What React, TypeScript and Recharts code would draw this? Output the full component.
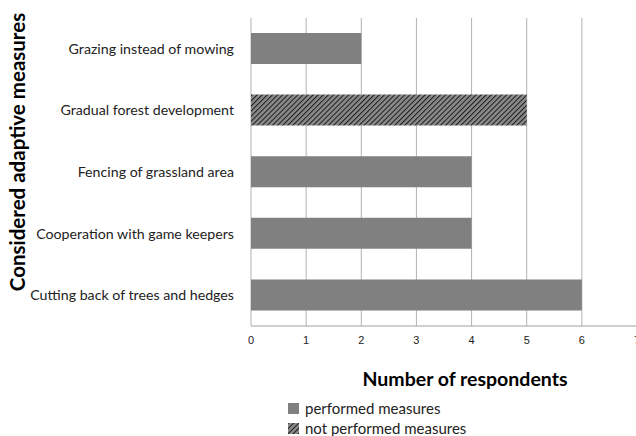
import React from "react";
import { BarChart, Bar, XAxis, YAxis, CartesianGrid } from "recharts";

const categories = [
  "Grazing instead of mowing",
  "Gradual forest development",
  "Fencing of grassland area",
  "Cooperation with game keepers",
  "Cutting back of trees and hedges",
];
const performed = [2, 0, 4, 4, 6];
const notPerformed = [0, 5, 0, 0, 0];
const xTicks = [0, 1, 2, 3, 4, 5, 6, 7];
const legendLabels = ["performed measures", "not performed measures"];

const data = categories.map((c, i) => ({
  name: c,
  performed: performed[i],
  notPerformed: notPerformed[i],
}));

const FONT = "Lato, 'Open Sans', sans-serif";

export default function App() {
  return (
    <div style={{ position: "relative", width: 636, height: 436, overflow: "hidden", background: "#fff" }}>
      <style>{"html,body{margin:0;padding:0;overflow:hidden}"}</style>
      <BarChart
        width={640}
        height={436}
        data={data}
        layout="vertical"
        margin={{ top: 18, right: 3, bottom: 80, left: 11 }}
      >
        <defs>
          <pattern id="hatch" patternUnits="userSpaceOnUse" width={3.6} height={3.6} patternTransform="rotate(45)">
            <rect width={3.6} height={3.6} fill="#8a8a8a" />
            <line x1={0} y1={0} x2={0} y2={3.6} stroke="#1a1a1a" strokeWidth={2} />
          </pattern>
        </defs>
        <CartesianGrid horizontal={false} stroke="#b3b3b3" />
        <XAxis
          type="number"
          domain={[0, 7]}
          ticks={xTicks}
          interval={0}
          tickLine={false}
          axisLine={{ stroke: "#a0a0a0" }}
          tick={{ fontSize: 11, fill: "#222", fontFamily: "'Liberation Sans', Arial, sans-serif" }}
          tickMargin={4}
        />
        <YAxis
          type="category"
          dataKey="name"
          width={240}
          axisLine={false}
          tickLine={false}
          tickMargin={11}
          tick={{ fontSize: 14.2, fill: "#222", fontFamily: FONT }}
        />
        <Bar dataKey="performed" stackId="a" fill="#808080" barSize={31} isAnimationActive={false} />
        <Bar dataKey="notPerformed" stackId="a" fill="url(#hatch)" barSize={31} isAnimationActive={false} />
      </BarChart>
      <svg width={0} height={0} style={{ position: "absolute" }}>
        <defs>
          <pattern id="hatch2" patternUnits="userSpaceOnUse" width={3.6} height={3.6} patternTransform="rotate(45)">
            <rect width={3.6} height={3.6} fill="#8a8a8a" />
            <line x1={0} y1={0} x2={0} y2={3.6} stroke="#1a1a1a" strokeWidth={2} />
          </pattern>
        </defs>
      </svg>
      {legendLabels.map((l, i) => (
        <div
          key={l}
          style={{
            position: "absolute",
            left: 288,
            top: 399 + i * 20,
            height: 18,
            display: "flex",
            alignItems: "center",
            fontFamily: FONT,
            fontSize: 15,
            color: "#222",
            lineHeight: "18px",
            whiteSpace: "nowrap",
          }}
        >
          <svg width={11} height={11} style={{ marginRight: 6 }}>
            <rect width={11} height={11} fill={i === 0 ? "#808080" : "url(#hatch2)"} />
          </svg>
          {l}
        </div>
      ))}
      <div
        style={{
          position: "absolute",
          left: 272,
          width: 386,
          top: 367,
          textAlign: "center",
          fontFamily: FONT,
          fontWeight: 700,
          fontSize: 19.5,
          color: "#000",
        }}
      >
        Number of respondents
      </div>
      <div
        style={{
          position: "absolute",
          left: 17,
          top: 152,
          transform: "translate(-50%, -50%) rotate(-90deg)",
          whiteSpace: "nowrap",
          fontFamily: FONT,
          fontWeight: 700,
          fontSize: 20.5,
          color: "#000",
        }}
      >
        Considered adaptive measures
      </div>
    </div>
  );
}
